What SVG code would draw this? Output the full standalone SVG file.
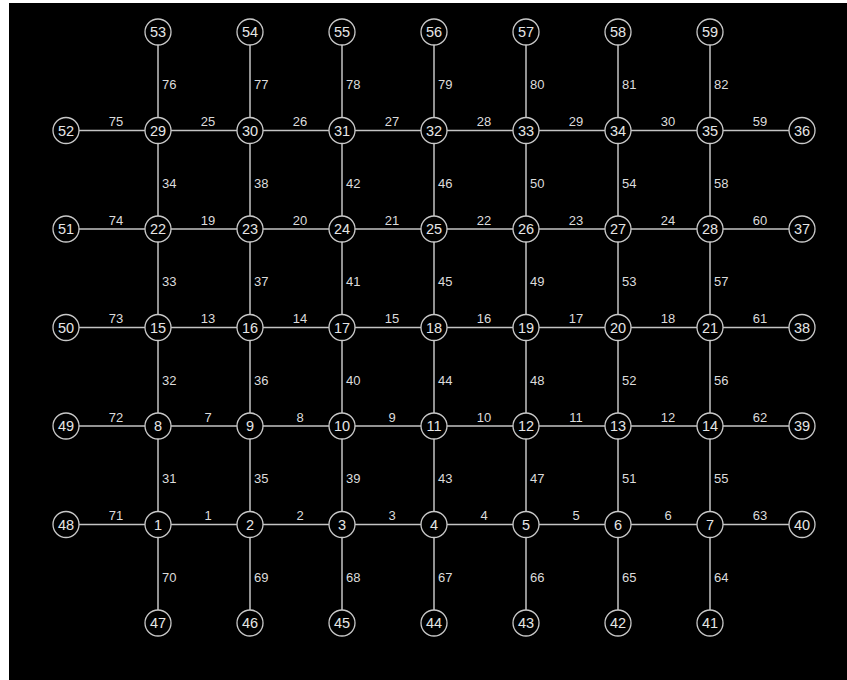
<svg xmlns="http://www.w3.org/2000/svg" width="847" height="680" viewBox="0 0 847 680">
<style>
.e{stroke:#c4c4c4;stroke-width:1.5;fill:none}
.n circle{fill:#000;stroke:#c8c8c8;stroke-width:1.3}
.n text{fill:#e6e6e6;font-family:"Liberation Sans",Arial,sans-serif;font-size:14.5px;text-anchor:middle}
.h{fill:#dcdcdc;font-family:"Liberation Sans",Arial,sans-serif;font-size:13px;text-anchor:middle}
.v{fill:#dcdcdc;font-family:"Liberation Sans",Arial,sans-serif;font-size:13px;text-anchor:start}
</style>
<rect x="9" y="3" width="838" height="677" fill="#000"/>
<g id="connectors">
<line class="e" x1="66" y1="524.5" x2="158" y2="524.5"/><line class="e" x1="158" y1="524.5" x2="250" y2="524.5"/><line class="e" x1="250" y1="524.5" x2="342" y2="524.5"/><line class="e" x1="342" y1="524.5" x2="434" y2="524.5"/><line class="e" x1="434" y1="524.5" x2="526" y2="524.5"/><line class="e" x1="526" y1="524.5" x2="618" y2="524.5"/><line class="e" x1="618" y1="524.5" x2="710" y2="524.5"/><line class="e" x1="710" y1="524.5" x2="802" y2="524.5"/>
<line class="e" x1="66" y1="426" x2="158" y2="426"/><line class="e" x1="158" y1="426" x2="250" y2="426"/><line class="e" x1="250" y1="426" x2="342" y2="426"/><line class="e" x1="342" y1="426" x2="434" y2="426"/><line class="e" x1="434" y1="426" x2="526" y2="426"/><line class="e" x1="526" y1="426" x2="618" y2="426"/><line class="e" x1="618" y1="426" x2="710" y2="426"/><line class="e" x1="710" y1="426" x2="802" y2="426"/>
<line class="e" x1="66" y1="327.5" x2="158" y2="327.5"/><line class="e" x1="158" y1="327.5" x2="250" y2="327.5"/><line class="e" x1="250" y1="327.5" x2="342" y2="327.5"/><line class="e" x1="342" y1="327.5" x2="434" y2="327.5"/><line class="e" x1="434" y1="327.5" x2="526" y2="327.5"/><line class="e" x1="526" y1="327.5" x2="618" y2="327.5"/><line class="e" x1="618" y1="327.5" x2="710" y2="327.5"/><line class="e" x1="710" y1="327.5" x2="802" y2="327.5"/>
<line class="e" x1="66" y1="229" x2="158" y2="229"/><line class="e" x1="158" y1="229" x2="250" y2="229"/><line class="e" x1="250" y1="229" x2="342" y2="229"/><line class="e" x1="342" y1="229" x2="434" y2="229"/><line class="e" x1="434" y1="229" x2="526" y2="229"/><line class="e" x1="526" y1="229" x2="618" y2="229"/><line class="e" x1="618" y1="229" x2="710" y2="229"/><line class="e" x1="710" y1="229" x2="802" y2="229"/>
<line class="e" x1="66" y1="130.5" x2="158" y2="130.5"/><line class="e" x1="158" y1="130.5" x2="250" y2="130.5"/><line class="e" x1="250" y1="130.5" x2="342" y2="130.5"/><line class="e" x1="342" y1="130.5" x2="434" y2="130.5"/><line class="e" x1="434" y1="130.5" x2="526" y2="130.5"/><line class="e" x1="526" y1="130.5" x2="618" y2="130.5"/><line class="e" x1="618" y1="130.5" x2="710" y2="130.5"/><line class="e" x1="710" y1="130.5" x2="802" y2="130.5"/>
<line class="e" x1="158" y1="32" x2="158" y2="130.5"/><line class="e" x1="158" y1="130.5" x2="158" y2="229"/><line class="e" x1="158" y1="229" x2="158" y2="327.5"/><line class="e" x1="158" y1="327.5" x2="158" y2="426"/><line class="e" x1="158" y1="426" x2="158" y2="524.5"/><line class="e" x1="158" y1="524.5" x2="158" y2="623"/>
<line class="e" x1="250" y1="32" x2="250" y2="130.5"/><line class="e" x1="250" y1="130.5" x2="250" y2="229"/><line class="e" x1="250" y1="229" x2="250" y2="327.5"/><line class="e" x1="250" y1="327.5" x2="250" y2="426"/><line class="e" x1="250" y1="426" x2="250" y2="524.5"/><line class="e" x1="250" y1="524.5" x2="250" y2="623"/>
<line class="e" x1="342" y1="32" x2="342" y2="130.5"/><line class="e" x1="342" y1="130.5" x2="342" y2="229"/><line class="e" x1="342" y1="229" x2="342" y2="327.5"/><line class="e" x1="342" y1="327.5" x2="342" y2="426"/><line class="e" x1="342" y1="426" x2="342" y2="524.5"/><line class="e" x1="342" y1="524.5" x2="342" y2="623"/>
<line class="e" x1="434" y1="32" x2="434" y2="130.5"/><line class="e" x1="434" y1="130.5" x2="434" y2="229"/><line class="e" x1="434" y1="229" x2="434" y2="327.5"/><line class="e" x1="434" y1="327.5" x2="434" y2="426"/><line class="e" x1="434" y1="426" x2="434" y2="524.5"/><line class="e" x1="434" y1="524.5" x2="434" y2="623"/>
<line class="e" x1="526" y1="32" x2="526" y2="130.5"/><line class="e" x1="526" y1="130.5" x2="526" y2="229"/><line class="e" x1="526" y1="229" x2="526" y2="327.5"/><line class="e" x1="526" y1="327.5" x2="526" y2="426"/><line class="e" x1="526" y1="426" x2="526" y2="524.5"/><line class="e" x1="526" y1="524.5" x2="526" y2="623"/>
<line class="e" x1="618" y1="32" x2="618" y2="130.5"/><line class="e" x1="618" y1="130.5" x2="618" y2="229"/><line class="e" x1="618" y1="229" x2="618" y2="327.5"/><line class="e" x1="618" y1="327.5" x2="618" y2="426"/><line class="e" x1="618" y1="426" x2="618" y2="524.5"/><line class="e" x1="618" y1="524.5" x2="618" y2="623"/>
<line class="e" x1="710" y1="32" x2="710" y2="130.5"/><line class="e" x1="710" y1="130.5" x2="710" y2="229"/><line class="e" x1="710" y1="229" x2="710" y2="327.5"/><line class="e" x1="710" y1="327.5" x2="710" y2="426"/><line class="e" x1="710" y1="426" x2="710" y2="524.5"/><line class="e" x1="710" y1="524.5" x2="710" y2="623"/>
</g>
<g id="edge-labels">
<text class="h" x="116" y="520">71</text><text class="h" x="208" y="520">1</text><text class="h" x="300" y="520">2</text><text class="h" x="392" y="520">3</text><text class="h" x="484" y="520">4</text><text class="h" x="576" y="520">5</text><text class="h" x="668" y="520">6</text><text class="h" x="760" y="520">63</text>
<text class="h" x="116" y="421.5">72</text><text class="h" x="208" y="421.5">7</text><text class="h" x="300" y="421.5">8</text><text class="h" x="392" y="421.5">9</text><text class="h" x="484" y="421.5">10</text><text class="h" x="576" y="421.5">11</text><text class="h" x="668" y="421.5">12</text><text class="h" x="760" y="421.5">62</text>
<text class="h" x="116" y="323">73</text><text class="h" x="208" y="323">13</text><text class="h" x="300" y="323">14</text><text class="h" x="392" y="323">15</text><text class="h" x="484" y="323">16</text><text class="h" x="576" y="323">17</text><text class="h" x="668" y="323">18</text><text class="h" x="760" y="323">61</text>
<text class="h" x="116" y="224.5">74</text><text class="h" x="208" y="224.5">19</text><text class="h" x="300" y="224.5">20</text><text class="h" x="392" y="224.5">21</text><text class="h" x="484" y="224.5">22</text><text class="h" x="576" y="224.5">23</text><text class="h" x="668" y="224.5">24</text><text class="h" x="760" y="224.5">60</text>
<text class="h" x="116" y="126">75</text><text class="h" x="208" y="126">25</text><text class="h" x="300" y="126">26</text><text class="h" x="392" y="126">27</text><text class="h" x="484" y="126">28</text><text class="h" x="576" y="126">29</text><text class="h" x="668" y="126">30</text><text class="h" x="760" y="126">59</text>
<text class="v" x="162" y="89.25">76</text><text class="v" x="162" y="187.75">34</text><text class="v" x="162" y="286.25">33</text><text class="v" x="162" y="384.75">32</text><text class="v" x="162" y="483.25">31</text><text class="v" x="162" y="581.75">70</text>
<text class="v" x="254" y="89.25">77</text><text class="v" x="254" y="187.75">38</text><text class="v" x="254" y="286.25">37</text><text class="v" x="254" y="384.75">36</text><text class="v" x="254" y="483.25">35</text><text class="v" x="254" y="581.75">69</text>
<text class="v" x="346" y="89.25">78</text><text class="v" x="346" y="187.75">42</text><text class="v" x="346" y="286.25">41</text><text class="v" x="346" y="384.75">40</text><text class="v" x="346" y="483.25">39</text><text class="v" x="346" y="581.75">68</text>
<text class="v" x="438" y="89.25">79</text><text class="v" x="438" y="187.75">46</text><text class="v" x="438" y="286.25">45</text><text class="v" x="438" y="384.75">44</text><text class="v" x="438" y="483.25">43</text><text class="v" x="438" y="581.75">67</text>
<text class="v" x="530" y="89.25">80</text><text class="v" x="530" y="187.75">50</text><text class="v" x="530" y="286.25">49</text><text class="v" x="530" y="384.75">48</text><text class="v" x="530" y="483.25">47</text><text class="v" x="530" y="581.75">66</text>
<text class="v" x="622" y="89.25">81</text><text class="v" x="622" y="187.75">54</text><text class="v" x="622" y="286.25">53</text><text class="v" x="622" y="384.75">52</text><text class="v" x="622" y="483.25">51</text><text class="v" x="622" y="581.75">65</text>
<text class="v" x="714" y="89.25">82</text><text class="v" x="714" y="187.75">58</text><text class="v" x="714" y="286.25">57</text><text class="v" x="714" y="384.75">56</text><text class="v" x="714" y="483.25">55</text><text class="v" x="714" y="581.75">64</text>
</g>
<g id="n1" class="n"><circle cx="158" cy="524.5" r="13"/><text x="158" y="529.5">1</text></g>
<g id="n2" class="n"><circle cx="250" cy="524.5" r="13"/><text x="250" y="529.5">2</text></g>
<g id="n3" class="n"><circle cx="342" cy="524.5" r="13"/><text x="342" y="529.5">3</text></g>
<g id="n4" class="n"><circle cx="434" cy="524.5" r="13"/><text x="434" y="529.5">4</text></g>
<g id="n5" class="n"><circle cx="526" cy="524.5" r="13"/><text x="526" y="529.5">5</text></g>
<g id="n6" class="n"><circle cx="618" cy="524.5" r="13"/><text x="618" y="529.5">6</text></g>
<g id="n7" class="n"><circle cx="710" cy="524.5" r="13"/><text x="710" y="529.5">7</text></g>
<g id="n8" class="n"><circle cx="158" cy="426" r="13"/><text x="158" y="431">8</text></g>
<g id="n9" class="n"><circle cx="250" cy="426" r="13"/><text x="250" y="431">9</text></g>
<g id="n10" class="n"><circle cx="342" cy="426" r="13"/><text x="342" y="431">10</text></g>
<g id="n11" class="n"><circle cx="434" cy="426" r="13"/><text x="434" y="431">11</text></g>
<g id="n12" class="n"><circle cx="526" cy="426" r="13"/><text x="526" y="431">12</text></g>
<g id="n13" class="n"><circle cx="618" cy="426" r="13"/><text x="618" y="431">13</text></g>
<g id="n14" class="n"><circle cx="710" cy="426" r="13"/><text x="710" y="431">14</text></g>
<g id="n15" class="n"><circle cx="158" cy="327.5" r="13"/><text x="158" y="332.5">15</text></g>
<g id="n16" class="n"><circle cx="250" cy="327.5" r="13"/><text x="250" y="332.5">16</text></g>
<g id="n17" class="n"><circle cx="342" cy="327.5" r="13"/><text x="342" y="332.5">17</text></g>
<g id="n18" class="n"><circle cx="434" cy="327.5" r="13"/><text x="434" y="332.5">18</text></g>
<g id="n19" class="n"><circle cx="526" cy="327.5" r="13"/><text x="526" y="332.5">19</text></g>
<g id="n20" class="n"><circle cx="618" cy="327.5" r="13"/><text x="618" y="332.5">20</text></g>
<g id="n21" class="n"><circle cx="710" cy="327.5" r="13"/><text x="710" y="332.5">21</text></g>
<g id="n22" class="n"><circle cx="158" cy="229" r="13"/><text x="158" y="234">22</text></g>
<g id="n23" class="n"><circle cx="250" cy="229" r="13"/><text x="250" y="234">23</text></g>
<g id="n24" class="n"><circle cx="342" cy="229" r="13"/><text x="342" y="234">24</text></g>
<g id="n25" class="n"><circle cx="434" cy="229" r="13"/><text x="434" y="234">25</text></g>
<g id="n26" class="n"><circle cx="526" cy="229" r="13"/><text x="526" y="234">26</text></g>
<g id="n27" class="n"><circle cx="618" cy="229" r="13"/><text x="618" y="234">27</text></g>
<g id="n28" class="n"><circle cx="710" cy="229" r="13"/><text x="710" y="234">28</text></g>
<g id="n29" class="n"><circle cx="158" cy="130.5" r="13"/><text x="158" y="135.5">29</text></g>
<g id="n30" class="n"><circle cx="250" cy="130.5" r="13"/><text x="250" y="135.5">30</text></g>
<g id="n31" class="n"><circle cx="342" cy="130.5" r="13"/><text x="342" y="135.5">31</text></g>
<g id="n32" class="n"><circle cx="434" cy="130.5" r="13"/><text x="434" y="135.5">32</text></g>
<g id="n33" class="n"><circle cx="526" cy="130.5" r="13"/><text x="526" y="135.5">33</text></g>
<g id="n34" class="n"><circle cx="618" cy="130.5" r="13"/><text x="618" y="135.5">34</text></g>
<g id="n35" class="n"><circle cx="710" cy="130.5" r="13"/><text x="710" y="135.5">35</text></g>
<g id="n36" class="n"><circle cx="802" cy="130.5" r="13"/><text x="802" y="135.5">36</text></g>
<g id="n37" class="n"><circle cx="802" cy="229" r="13"/><text x="802" y="234">37</text></g>
<g id="n38" class="n"><circle cx="802" cy="327.5" r="13"/><text x="802" y="332.5">38</text></g>
<g id="n39" class="n"><circle cx="802" cy="426" r="13"/><text x="802" y="431">39</text></g>
<g id="n40" class="n"><circle cx="802" cy="524.5" r="13"/><text x="802" y="529.5">40</text></g>
<g id="n41" class="n"><circle cx="710" cy="623" r="13"/><text x="710" y="628">41</text></g>
<g id="n42" class="n"><circle cx="618" cy="623" r="13"/><text x="618" y="628">42</text></g>
<g id="n43" class="n"><circle cx="526" cy="623" r="13"/><text x="526" y="628">43</text></g>
<g id="n44" class="n"><circle cx="434" cy="623" r="13"/><text x="434" y="628">44</text></g>
<g id="n45" class="n"><circle cx="342" cy="623" r="13"/><text x="342" y="628">45</text></g>
<g id="n46" class="n"><circle cx="250" cy="623" r="13"/><text x="250" y="628">46</text></g>
<g id="n47" class="n"><circle cx="158" cy="623" r="13"/><text x="158" y="628">47</text></g>
<g id="n48" class="n"><circle cx="66" cy="524.5" r="13"/><text x="66" y="529.5">48</text></g>
<g id="n49" class="n"><circle cx="66" cy="426" r="13"/><text x="66" y="431">49</text></g>
<g id="n50" class="n"><circle cx="66" cy="327.5" r="13"/><text x="66" y="332.5">50</text></g>
<g id="n51" class="n"><circle cx="66" cy="229" r="13"/><text x="66" y="234">51</text></g>
<g id="n52" class="n"><circle cx="66" cy="130.5" r="13"/><text x="66" y="135.5">52</text></g>
<g id="n53" class="n"><circle cx="158" cy="32" r="13"/><text x="158" y="37">53</text></g>
<g id="n54" class="n"><circle cx="250" cy="32" r="13"/><text x="250" y="37">54</text></g>
<g id="n55" class="n"><circle cx="342" cy="32" r="13"/><text x="342" y="37">55</text></g>
<g id="n56" class="n"><circle cx="434" cy="32" r="13"/><text x="434" y="37">56</text></g>
<g id="n57" class="n"><circle cx="526" cy="32" r="13"/><text x="526" y="37">57</text></g>
<g id="n58" class="n"><circle cx="618" cy="32" r="13"/><text x="618" y="37">58</text></g>
<g id="n59" class="n"><circle cx="710" cy="32" r="13"/><text x="710" y="37">59</text></g>
</svg>
